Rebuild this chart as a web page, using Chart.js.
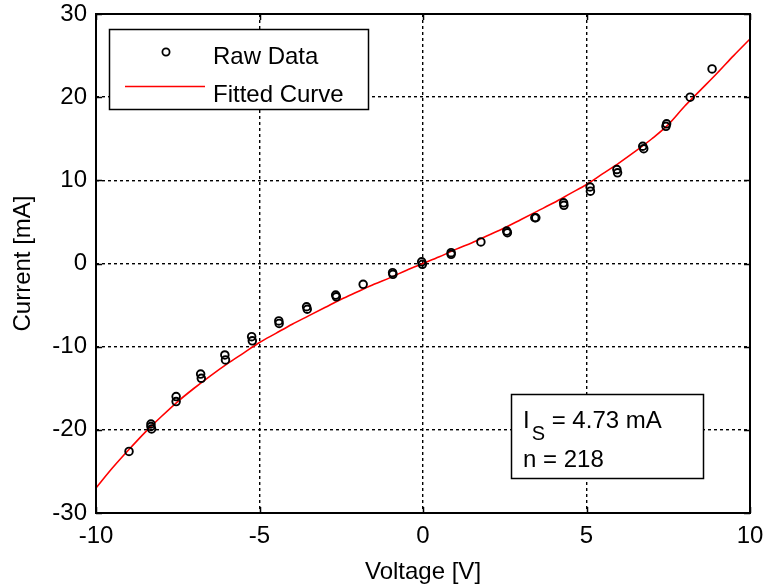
<!DOCTYPE html>
<html>
<head>
<meta charset="utf-8">
<script src="https://cdn.jsdelivr.net/npm/chart.js@4"></script>
<style>
html,body{margin:0;padding:0;background:#fff;}
#wrap{width:766px;height:588px;position:relative;}
</style>
</head>
<body>
<div id="wrap"><canvas id="c" width="766" height="588"></canvas></div>
<script>
// Raw data
const rawVoltage = [-8.99,-8.32,-8.32,-8.30,-7.55,-7.55,-6.80,-6.78,-6.06,-6.04,-5.24,-5.22,-4.41,-4.40,-3.56,-3.54,-2.67,-2.65,-1.83,-0.93,-0.92,-0.04,-0.02,0.86,0.86,1.77,2.56,2.58,3.42,3.45,4.30,4.31,5.11,5.12,5.93,5.95,6.72,6.75,7.43,7.45,8.17,8.84];
const rawCurrent = [-22.6,-19.3,-19.6,-19.9,-16.0,-16.6,-13.3,-13.8,-11.0,-11.6,-8.8,-9.3,-6.9,-7.2,-5.2,-5.5,-3.8,-4.0,-2.5,-1.1,-1.3,0.2,-0.1,1.3,1.1,2.6,3.9,3.7,5.5,5.5,7.3,7.0,9.2,8.7,11.3,10.9,14.1,13.8,16.5,16.8,20.0,23.4];
// Fitted curve
const fitVoltage = [-10,-9.5,-9,-8.5,-8,-7.5,-7,-6.5,-6,-5.5,-5,-4.5,-4,-3.5,-3,-2.5,-2,-1.5,-1,-0.5,0,0.5,1,1.5,2,2.5,3,3.5,4,4.5,5,5.5,6,6.5,7,7.5,8,8.5,9,9.5,10];
const fitCurrent = [-27.0,-24.6,-22.4,-20.3,-18.4,-16.6,-15.0,-13.5,-12.1,-10.8,-9.5,-8.4,-7.3,-6.3,-5.3,-4.3,-3.4,-2.5,-1.7,-0.8,0,0.8,1.7,2.5,3.4,4.3,5.3,6.3,7.3,8.4,9.5,10.8,12.1,13.5,15.0,16.7,18.9,20.9,22.9,25.0,27.0];
const xTickStep = 5, yTickStep = 10;
const xRange = [-10, 10], yRange = [-30, 30];
const legendLabels = ['Raw Data', 'Fitted Curve'];
const infoLines = ['4.73 mA', '218'];

const FONT = 'Liberation Sans, Arial, sans-serif';
const FS = 24;

const framePlugin = {
  id: 'frame',
  afterDatasetsDraw(chart) {
    const ctx = chart.ctx, a = chart.chartArea;
    const xs = chart.scales.x, ys = chart.scales.y;
    ctx.save();
    ctx.strokeStyle = '#000'; ctx.lineWidth = 1.5; ctx.setLineDash([]);
    const tl = 6;
    xs.ticks.forEach(t => {
      const px = Math.round(xs.getPixelForValue(t.value)) + 0.5;
      ctx.beginPath();
      ctx.moveTo(px, a.bottom); ctx.lineTo(px, a.bottom - tl);
      ctx.moveTo(px, a.top); ctx.lineTo(px, a.top + tl);
      ctx.stroke();
    });
    ys.ticks.forEach(t => {
      const py = Math.round(ys.getPixelForValue(t.value)) + 0.5;
      ctx.beginPath();
      ctx.moveTo(a.left, py); ctx.lineTo(a.left + tl, py);
      ctx.moveTo(a.right, py); ctx.lineTo(a.right - tl, py);
      ctx.stroke();
    });
    ctx.lineWidth = 2;
    ctx.strokeRect(a.left, a.top, a.right - a.left, a.bottom - a.top);

    // legend box
    ctx.fillStyle = '#fff';
    ctx.fillRect(109, 29, 259, 80);
    ctx.lineWidth = 1.5;
    ctx.strokeRect(109.5, 29.5, 259, 80);
    ctx.beginPath();
    ctx.arc(166, 52, 3.6, 0, Math.PI * 2);
    ctx.lineWidth = 1.8; ctx.strokeStyle = '#000'; ctx.stroke();
    ctx.beginPath();
    ctx.moveTo(125, 86.5); ctx.lineTo(205, 86.5);
    ctx.strokeStyle = '#ff0000'; ctx.lineWidth = 1.5; ctx.stroke();
    ctx.fillStyle = '#000';
    ctx.font = FS + 'px ' + FONT;
    ctx.textBaseline = 'alphabetic'; ctx.textAlign = 'left';
    ctx.fillText(legendLabels[0], 213, 64);
    ctx.fillText(legendLabels[1], 213, 101.5);

    // info box
    ctx.fillStyle = '#fff';
    ctx.fillRect(511, 394, 192, 84);
    ctx.strokeStyle = '#000'; ctx.lineWidth = 1.5;
    ctx.strokeRect(511.5, 394.5, 192, 84);
    ctx.fillStyle = '#000';
    ctx.font = FS + 'px ' + FONT;
    ctx.fillText('I', 523, 428);
    let x = 523 + ctx.measureText('I').width;
    ctx.font = '20px ' + FONT;
    ctx.fillText('S', x + 2, 440);
    x += 2 + ctx.measureText('S').width;
    ctx.font = FS + 'px ' + FONT;
    ctx.fillText(' = ' + infoLines[0], x, 428);
    ctx.fillText('n = ' + infoLines[1], 523, 467);
    ctx.restore();
  }
};

new Chart(document.getElementById('c'), {
  type: 'scatter',
  data: {
    datasets: [
      {
        label: legendLabels[0],
        data: rawVoltage.map((v, i) => ({x: v, y: rawCurrent[i]})),
        showLine: false,
        pointStyle: 'circle',
        pointRadius: 3.8,
        pointBorderWidth: 1.9,
        pointBorderColor: '#000',
        pointBackgroundColor: 'rgba(0,0,0,0)',
        order: 1
      },
      {
        label: legendLabels[1],
        type: 'line',
        data: fitVoltage.map((v, i) => ({x: v, y: fitCurrent[i]})),
        borderColor: '#ff0000',
        borderWidth: 1.6,
        pointRadius: 0,
        fill: false,
        cubicInterpolationMode: 'monotone',
        order: 2
      }
    ]
  },
  options: {
    responsive: false,
    animation: false,
    events: [],
    layout: {padding: {top: 14, right: 16, left: 0, bottom: 0}},
    plugins: {legend: {display: false}, tooltip: {enabled: false}},
    scales: {
      x: {
        type: 'linear', min: xRange[0], max: xRange[1],
        afterFit(s) { s.height = 75; s.paddingLeft = 0; s.paddingRight = 0; },
        ticks: {stepSize: xTickStep, color: '#000', font: {family: FONT, size: FS}, padding: 9, maxRotation: 0},
        grid: {color: '#000', lineWidth: 1.4, drawTicks: false},
        border: {display: false, dash: [3, 3]},
        title: {display: true, text: 'Voltage [V]', color: '#000', font: {family: FONT, size: FS}, padding: 1}
      },
      y: {
        type: 'linear', min: yRange[0], max: yRange[1],
        afterFit(s) { s.width = 96; s.paddingTop = 0; s.paddingBottom = 0; },
        ticks: {stepSize: yTickStep, color: '#000', font: {family: FONT, size: FS}, padding: 9},
        grid: {color: '#000', lineWidth: 1.4, drawTicks: false},
        border: {display: false, dash: [3, 3]},
        title: {display: true, text: 'Current [mA]', color: '#000', font: {family: FONT, size: FS}, padding: 9}
      }
    }
  },
  plugins: [framePlugin]
});
</script>
</body>
</html>
